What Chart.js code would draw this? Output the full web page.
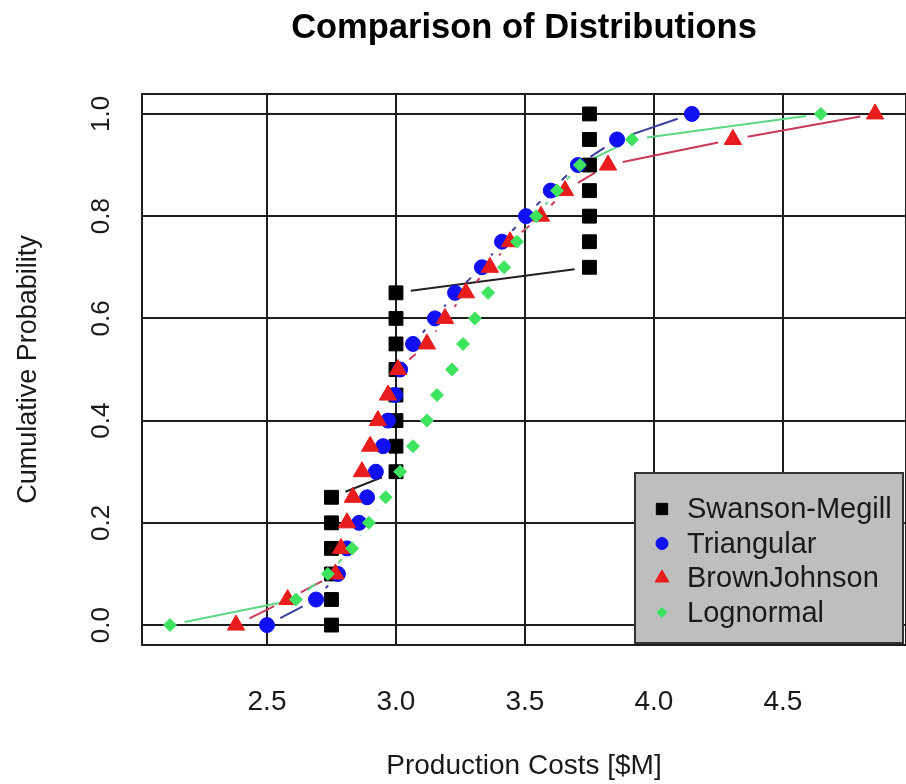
<!DOCTYPE html>
<html>
<head>
<meta charset="utf-8">
<title>Comparison of Distributions</title>
<script src="https://cdn.jsdelivr.net/npm/chart.js@4.4.1/dist/chart.umd.min.js"></script>
<style>
  html, body { margin: 0; padding: 0; background: #fff; overflow: hidden; }
  canvas { display: block; }
</style>
</head>
<body>
<canvas id="grafico" width="906" height="784"></canvas>
<script>
// cumulative probability levels shared by every series
const probs = [0, 0.05, 0.10, 0.15, 0.20, 0.25, 0.30, 0.35, 0.40, 0.45, 0.50,
               0.55, 0.60, 0.65, 0.70, 0.75, 0.80, 0.85, 0.90, 0.95, 1.00];

// production costs [$M]
const swansonX = [2.75, 2.75, 2.75, 2.75, 2.75, 2.75, 3.0, 3.0, 3.0, 3.0, 3.0,
                  3.0, 3.0, 3.0, 3.75, 3.75, 3.75, 3.75, 3.75, 3.75, 3.75];
const triangularX = [2.50, 2.69, 2.775, 2.81, 2.857, 2.888, 2.922, 2.95, 2.969, 2.996, 3.016,
                     3.066, 3.151, 3.229, 3.333, 3.411, 3.504, 3.60, 3.705, 3.857, 4.147];
const brownJohnsonX = [2.38, 2.58, 2.765, 2.787, 2.81, 2.833, 2.868, 2.90, 2.93, 2.969, 3.008,
                       3.12, 3.19, 3.271, 3.364, 3.442, 3.562, 3.655, 3.822, 4.306, 4.857];
const lognormalX = [2.124, 2.612, 2.736, 2.83, 2.895, 2.96, 3.016, 3.066, 3.12, 3.159, 3.217,
                    3.26, 3.306, 3.357, 3.419, 3.469, 3.543, 3.624, 3.713, 3.915, 4.647];

const seriesNames = ['Swanson-Megill', 'Triangular', 'BrownJohnson', 'Lognormal'];
const xTicks = [2.5, 3.0, 3.5, 4.0, 4.5];
const yTicks = [0.0, 0.2, 0.4, 0.6, 0.8, 1.0];

const FONT = '"Liberation Sans", Arial, sans-serif';
const GRID = '#1e1e1e';
const GAP = 15;

function puntos(xs) {
  return xs.map((x, i) => ({ x: x, y: probs[i] }));
}

// R type="b": segments between points, with a gap round each point
const lineasConHueco = {
  id: 'lineasConHueco',
  beforeDatasetsDraw(chart) {
    const ctx = chart.ctx;
    const a = chart.chartArea;
    ctx.save();
    ctx.strokeStyle = GRID;
    ctx.lineWidth = 2;
    ctx.strokeRect(a.left, a.top, a.right - a.left, a.bottom - a.top);
    ctx.beginPath();
    ctx.rect(a.left, a.top, a.right - a.left, a.bottom - a.top);
    ctx.clip();
    chart.data.datasets.forEach((ds, i) => {
      const pts = chart.getDatasetMeta(i).data;
      ctx.strokeStyle = ds.lineColor;
      ctx.lineWidth = 2;
      for (let k = 1; k < pts.length; k++) {
        const p = pts[k - 1], q = pts[k];
        const dx = q.x - p.x, dy = q.y - p.y;
        const len = Math.hypot(dx, dy);
        if (len <= 2 * GAP) continue;
        const ux = dx / len, uy = dy / len;
        ctx.beginPath();
        ctx.moveTo(p.x + ux * GAP, p.y + uy * GAP);
        ctx.lineTo(q.x - ux * GAP, q.y - uy * GAP);
        ctx.stroke();
      }
    });
    ctx.restore();
  }
};

// grey legend box in the bottom right corner
const leyenda = {
  id: 'leyenda',
  afterDraw(chart) {
    const ctx = chart.ctx;
    const a = chart.chartArea;
    const w = 268, h = 170;
    const left = a.right - 3 - w, top = a.bottom - 2 - h;
    ctx.save();
    ctx.fillStyle = '#bebebe';
    ctx.fillRect(left, top, w, h);
    ctx.strokeStyle = '#333';
    ctx.lineWidth = 2;
    ctx.strokeRect(left, top, w, h);
    ctx.font = '29px ' + FONT;
    ctx.textBaseline = 'middle';
    chart.data.datasets.forEach((ds, i) => {
      const y = top + 36 + i * 34.5;
      const x = left + 27;
      ctx.fillStyle = ds.backgroundColor;
      ctx.strokeStyle = ds.backgroundColor;
      ctx.lineWidth = 1;
      Chart.helpers.drawPoint(ctx, {
        pointStyle: ds.pointStyle,
        radius: ds.legendRadius,
        rotation: 0,
        borderWidth: 1
      }, x, y);
      ctx.fillStyle = '#1a1a1a';
      ctx.fillText(ds.label, left + 52, y + 1);
    });
    ctx.restore();
  }
};

new Chart(document.getElementById('grafico'), {
  type: 'scatter',
  data: {
    datasets: [
      {
        label: seriesNames[0], data: puntos(swansonX), order: 4,
        pointStyle: 'rect', pointRadius: 9.8, legendRadius: 8,
        backgroundColor: '#000000', borderColor: '#000000', borderWidth: 1,
        lineColor: '#222222'
      },
      {
        label: seriesNames[1], data: puntos(triangularX), order: 3,
        pointStyle: 'circle', pointRadius: 7.5, legendRadius: 6,
        backgroundColor: '#1010f0', borderColor: '#1010f0', borderWidth: 1,
        lineColor: '#3a3f9a'
      },
      {
        label: seriesNames[2], data: puntos(brownJohnsonX), order: 2,
        pointStyle: 'triangle', pointRadius: 10, legendRadius: 8,
        backgroundColor: '#e81c1c', borderColor: '#e81c1c', borderWidth: 1,
        lineColor: '#c83a58'
      },
      {
        label: seriesNames[3], data: puntos(lognormalX), order: 1,
        pointStyle: 'rectRot', pointRadius: 6.5, legendRadius: 5,
        backgroundColor: '#3ee45e', borderColor: '#3ee45e', borderWidth: 1,
        lineColor: '#5cd882'
      }
    ]
  },
  options: {
    responsive: false,
    animation: false,
    layout: { padding: 0, autoPadding: false },
    plugins: {
      legend: { display: false },
      tooltip: { enabled: false },
      title: {
        display: true,
        fullSize: false,
        text: 'Comparison of Distributions',
        color: '#000',
        font: { family: FONT, size: 34.5, weight: 'bold' },
        padding: { top: 8, bottom: 44.6 }
      }
    },
    scales: {
      x: {
        type: 'linear',
        min: 2.0155,
        max: 4.977,
        afterBuildTicks: s => { s.ticks = xTicks.map(v => ({ value: v })); },
        afterFit: s => { s.height = 139; },
        grid: { color: GRID, lineWidth: 2, drawTicks: false },
        border: { display: true, color: GRID, width: 2 },
        ticks: {
          color: '#1a1a1a', padding: 40,
          font: { family: FONT, size: 28 },
          callback: v => v.toFixed(1)
        },
        title: {
          display: true, text: 'Production Costs [$M]', color: '#1a1a1a',
          font: { family: FONT, size: 28 }, padding: { top: 0, bottom: 1 }
        }
      },
      y: {
        type: 'linear',
        min: -0.039,
        max: 1.039,
        afterBuildTicks: s => { s.ticks = yTicks.map(v => ({ value: v })); },
        afterFit: s => { s.width = 142; },
        grid: { color: GRID, lineWidth: 2, drawTicks: false },
        border: { display: true, color: GRID, width: 2 },
        ticks: {
          color: '#1a1a1a', padding: 22, minRotation: 90, maxRotation: 90,
          crossAlign: 'center',
          font: { family: FONT, size: 26 },
          callback: v => v.toFixed(1)
        },
        title: {
          display: true, text: 'Cumulative Probability', color: '#1a1a1a',
          font: { family: FONT, size: 27 }, padding: { top: 12, bottom: 0 }
        }
      }
    }
  },
  plugins: [lineasConHueco, leyenda]
});
</script>
</body>
</html>
